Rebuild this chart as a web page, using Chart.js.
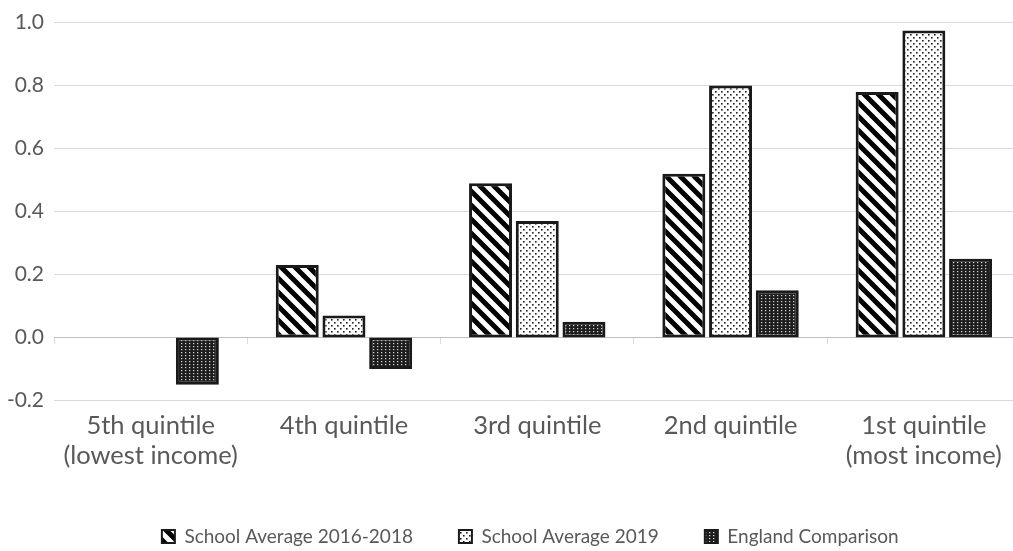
<!DOCTYPE html>
<html>
<head>
<meta charset="utf-8">
<title>Progress by income quintile</title>
<script src="https://cdn.jsdelivr.net/npm/chart.js@4"></script>
<style>
  html, body { margin: 0; padding: 0; background: #fff; overflow: hidden; }
  #wrap { width: 1060px; height: 556px; position: relative; }
</style>
</head>
<body>
<div id="wrap"><canvas id="quintileChart"></canvas></div>
<script>
// ---------- Data ----------
const QUINTILES = [
  ['5th quintile', '(lowest income)'],
  '4th quintile',
  '3rd quintile',
  '2nd quintile',
  ['1st quintile', '(most income)']
];
const SCHOOL_2016_18 = [0, 0.23, 0.49, 0.52, 0.78];
const SCHOOL_2019 = [0, 0.07, 0.37, 0.80, 0.975];
const ENGLAND = [-0.15, -0.10, 0.05, 0.15, 0.25];
const Y_MIN = -0.2, Y_MAX = 1.0, Y_STEP = 0.2;

const TEXT = '#595959';
const GRID = '#d9d9d9';
const FONT = 'Lato, "Open Sans", sans-serif';

// ---------- Fill patterns ----------
function tile(w, h, paint) {
  const c = document.createElement('canvas');
  c.width = w; c.height = h;
  const g = c.getContext('2d');
  paint(g, w, h);
  return g.createPattern(c, 'repeat');
}

// wide black diagonal stripes on white
const hatch = tile(14, 14, (g, w, h) => {
  g.fillStyle = '#fff';
  g.fillRect(0, 0, w, h);
  g.strokeStyle = '#000';
  g.lineWidth = 5;
  g.beginPath();
  for (let k = -w; k <= w; k += w) {
    g.moveTo(-2, k - 2);
    g.lineTo(w + 2, k + w + 2);
  }
  g.stroke();
});

// sparse black dots on white
const dots = tile(6, 6, (g, w, h) => {
  g.fillStyle = '#fff';
  g.fillRect(0, 0, w, h);
  g.fillStyle = '#222';
  g.fillRect(1, 1, 1.6, 1.6);
  g.fillRect(4, 4, 1.6, 1.6);
});

// fine white dots on black
const darkDots = tile(4, 3, (g, w, h) => {
  g.fillStyle = '#1e1e1e';
  g.fillRect(0, 0, w, h);
  g.fillStyle = '#cfcfcf';
  g.fillRect(1, 1, 1.3, 1.2);
});

// legend sits centred under the whole figure, not just the padded area
const legendNudge = {
  id: 'legendNudge',
  afterLayout(chart) {
    chart.legend.left += 20;
    chart.legend.right += 20;
  }
};

// ---------- Chart ----------
const barStyle = {
  borderColor: '#1a1a1a',
  borderWidth: 3,
  borderSkipped: false,
  categoryPercentage: 0.725,
  barPercentage: 0.92
};

new Chart(document.getElementById('quintileChart'), {
  type: 'bar',
  data: {
    labels: QUINTILES,
    datasets: [
      { label: 'School Average 2016-2018', data: SCHOOL_2016_18, backgroundColor: hatch, ...barStyle },
      { label: 'School Average 2019', data: SCHOOL_2019, backgroundColor: dots, ...barStyle },
      { label: 'England Comparison', data: ENGLAND, backgroundColor: darkDots, ...barStyle }
    ]
  },
  plugins: [legendNudge],
  options: {
    responsive: true,
    maintainAspectRatio: false,
    animation: false,
    layout: { padding: { top: 22, right: 39.5, left: 0, bottom: 0 } },
    plugins: {
      tooltip: { enabled: false },
      legend: {
        position: 'bottom',
        labels: {
          color: TEXT,
          font: { family: FONT, size: 19 },
          boxWidth: 13,
          boxHeight: 13,
          padding: 46,
          generateLabels(chart) {
            return Chart.defaults.plugins.legend.labels.generateLabels(chart)
              .map(item => ({ ...item, lineWidth: 2 }));
          }
        }
      }
    },
    scales: {
      x: {
        position: 'bottom',
        grid: { display: false },
        border: { display: false },
        ticks: {
          color: TEXT,
          font: { family: FONT, size: 25.5, lineHeight: '30px' },
          padding: 2,
          maxRotation: 0,
          autoSkip: false
        },
        afterFit(s) { s.height = 80.5; }
      },
      // zero line with category tick marks
      x2: {
        type: 'category',
        labels: QUINTILES,
        offset: true,
        position: { y: 0 },
        grid: { drawOnChartArea: false, offset: true, tickLength: 6, color: GRID },
        border: { color: '#bfbfbf' },
        ticks: { display: false }
      },
      y: {
        min: Y_MIN,
        max: Y_MAX,
        grid: { color: GRID, drawTicks: false },
        border: { display: false },
        ticks: {
          stepSize: Y_STEP,
          color: TEXT,
          font: { family: FONT, size: 21 },
          padding: 10,
          callback: v => (Math.abs(v) < 1e-9 ? 0 : v).toFixed(1)
        },
        afterFit(s) { s.width = 54; }
      }
    }
  }
});
</script>
</body>
</html>
